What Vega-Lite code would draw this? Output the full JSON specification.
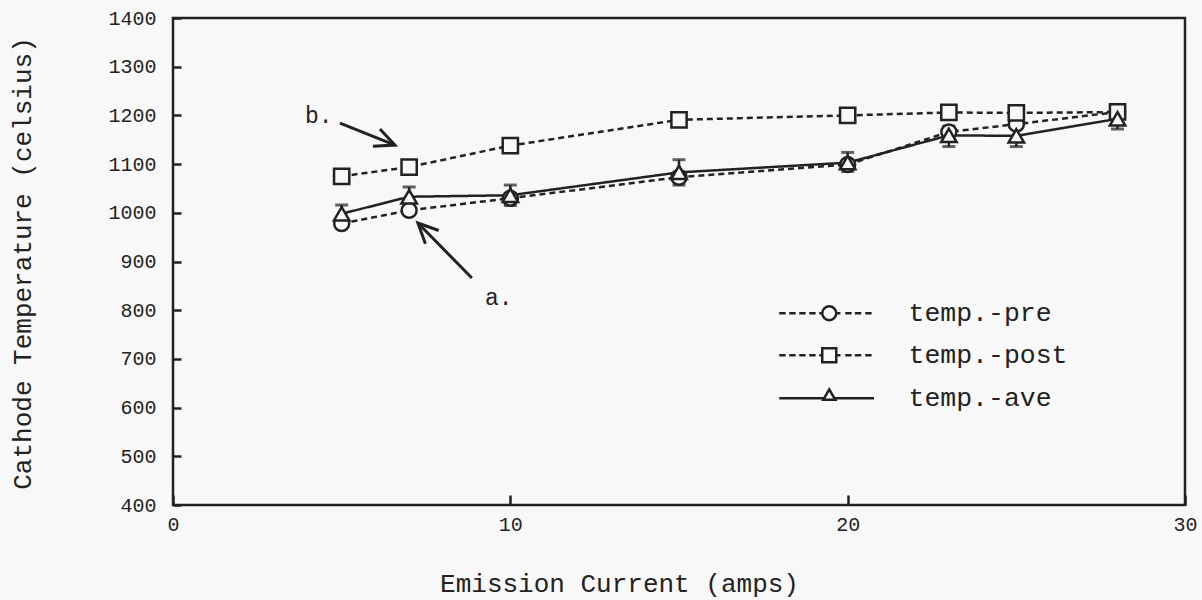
{
  "$schema": "https://vega.github.io/schema/vega-lite/v6.json",
  "width": 1012,
  "height": 487,
  "autosize": "none",
  "padding": {"left": 173, "top": 18, "right": 17, "bottom": 95},
  "background": "#f8f8f8",
  "config": {
    "font": "Liberation Mono",
    "view": {"stroke": "#222", "strokeWidth": 2.5},
    "axis": {
      "domain": false,
      "grid": false,
      "labelFont": "Liberation Mono",
      "titleFont": "Liberation Mono",
      "labelColor": "#222",
      "titleColor": "#222",
      "labelFontSize": 20,
      "titleFontSize": 26,
      "titleFontWeight": "normal",
      "labelFlush": false,
      "labelOverlap": false
    }
  },
  "datasets": {
    "temps": [
      {"current": 5, "series": "temp.-pre", "temp": 978},
      {"current": 7, "series": "temp.-pre", "temp": 1005},
      {"current": 10, "series": "temp.-pre", "temp": 1030},
      {"current": 15, "series": "temp.-pre", "temp": 1073},
      {"current": 20, "series": "temp.-pre", "temp": 1099},
      {"current": 23, "series": "temp.-pre", "temp": 1166},
      {"current": 25, "series": "temp.-pre", "temp": 1182},
      {"current": 28, "series": "temp.-pre", "temp": 1207},
      {"current": 5, "series": "temp.-post", "temp": 1075},
      {"current": 7, "series": "temp.-post", "temp": 1094},
      {"current": 10, "series": "temp.-post", "temp": 1138},
      {"current": 15, "series": "temp.-post", "temp": 1191},
      {"current": 20, "series": "temp.-post", "temp": 1200},
      {"current": 23, "series": "temp.-post", "temp": 1206},
      {"current": 25, "series": "temp.-post", "temp": 1205},
      {"current": 28, "series": "temp.-post", "temp": 1207},
      {"current": 5, "series": "temp.-ave", "temp": 998, "lo": 980, "hi": 1016},
      {"current": 7, "series": "temp.-ave", "temp": 1033, "lo": 1012, "hi": 1053},
      {"current": 10, "series": "temp.-ave", "temp": 1036, "lo": 1015, "hi": 1057},
      {"current": 15, "series": "temp.-ave", "temp": 1083, "lo": 1057, "hi": 1109},
      {"current": 20, "series": "temp.-ave", "temp": 1103, "lo": 1085, "hi": 1124},
      {"current": 23, "series": "temp.-ave", "temp": 1159, "lo": 1136, "hi": 1178},
      {"current": 25, "series": "temp.-ave", "temp": 1158, "lo": 1136, "hi": 1176},
      {"current": 28, "series": "temp.-ave", "temp": 1193, "lo": 1172, "hi": 1212}
    ],
    "arrows": [
      {"arrow": "b", "end": "tail", "current": 4.95, "temp": 1184},
      {"arrow": "b", "end": "tip", "current": 6.58, "temp": 1139},
      {"arrow": "a", "end": "tail", "current": 8.86, "temp": 866},
      {"arrow": "a", "end": "tip", "current": 7.26, "temp": 979}
    ],
    "notes": [
      {"text": "b.", "current": 3.91, "temp": 1199},
      {"text": "a.", "current": 9.25, "temp": 825}
    ]
  },
  "encoding": {
    "x": {
      "field": "current",
      "type": "quantitative",
      "scale": {"domain": [0, 30], "nice": false, "zero": false},
      "axis": {
        "title": "Emission Current (amps)",
        "values": [0, 10, 20, 30],
        "format": "d",
        "ticks": true,
        "tickColor": "#222",
        "tickWidth": 2.5,
        "offset": -10,
        "tickSize": 10,
        "labelPadding": 9,
        "titleX": 446,
        "titleY": 88,
        "titleBaseline": "middle"
      }
    },
    "y": {
      "field": "temp",
      "type": "quantitative",
      "scale": {"domain": [400, 1400], "nice": false, "zero": false},
      "axis": {
        "title": "Cathode Temperature (celsius)",
        "values": [400, 500, 600, 700, 800, 900, 1000, 1100, 1200, 1300, 1400],
        "format": "d",
        "ticks": true,
        "tickColor": "#222",
        "tickWidth": 2.5,
        "offset": -8,
        "tickSize": 8,
        "labelPadding": 17,
        "titleX": -159,
        "titleY": 245,
        "titleBaseline": "middle",
        "titleAlign": "center",
        "titleAngle": -90
      }
    }
  },
  "resolve": {"scale": {"shape": "independent", "size": "independent"}},
  "layer": [
    {
      "data": {"name": "temps"},
      "mark": {"type": "line", "color": "#222", "strokeWidth": 2.5},
      "encoding": {
        "detail": {"field": "series"},
        "strokeDash": {
          "field": "series",
          "scale": {"domain": ["temp.-pre", "temp.-post", "temp.-ave"], "range": [[6, 4], [6, 4], [1, 0]]},
          "legend": null
        }
      }
    },
    {
      "data": {"name": "temps"},
      "transform": [{"filter": "datum.series === 'temp.-ave'"}],
      "mark": {"type": "rule", "color": "#222", "strokeWidth": 2.5},
      "encoding": {
        "y": {"field": "lo", "type": "quantitative", "scale": {"domain": [400, 1400], "nice": false, "zero": false}},
        "y2": {"field": "hi"}
      }
    },
    {
      "data": {"name": "temps"},
      "transform": [{"filter": "datum.series === 'temp.-ave'"}],
      "mark": {"type": "tick", "orient": "horizontal", "color": "#222", "size": 13, "thickness": 3},
      "encoding": {
        "y": {"field": "hi", "type": "quantitative", "scale": {"domain": [400, 1400], "nice": false, "zero": false}}
      }
    },
    {
      "data": {"name": "temps"},
      "transform": [{"filter": "datum.series === 'temp.-ave'"}],
      "mark": {"type": "tick", "orient": "horizontal", "color": "#222", "size": 13, "thickness": 3},
      "encoding": {
        "y": {"field": "lo", "type": "quantitative", "scale": {"domain": [400, 1400], "nice": false, "zero": false}}
      }
    },
    {
      "data": {"name": "temps"},
      "mark": {"type": "point", "filled": true, "fill": "#f8f8f8", "stroke": "#222", "strokeWidth": 2.5, "opacity": 1},
      "encoding": {
        "shape": {
          "field": "series",
          "scale": {"domain": ["temp.-pre", "temp.-post", "temp.-ave"], "range": ["circle", "square", "triangle-up"]},
          "legend": null
        },
        "size": {
          "field": "series",
          "scale": {"domain": ["temp.-pre", "temp.-post", "temp.-ave"], "range": [225, 240, 150]},
          "legend": null
        }
      }
    },
    {
      "data": {"name": "temps"},
      "mark": {"type": "point", "filled": false, "stroke": "#222", "color": "#222", "strokeWidth": 2.5, "opacity": 0, "size": 256},
      "encoding": {
        "shape": {
          "field": "series",
          "scale": {
            "domain": ["temp.-pre", "temp.-post", "temp.-ave"],
            "range": [
              "M-6.25,0h0.8M-5,0h0.8M-3.75,0h0.8M-2.5,0h0.8M-1.25,0h0.4M1,0h0.4M2,0h0.8M3.2,0h0.8M4.5,0h0.8M-0.875,0A0.875,0.875,0,1,1,0.875,0A0.875,0.875,0,1,1,-0.875,0Z",
              "M-6.25,0h0.8M-5,0h0.8M-3.75,0h0.8M-2.5,0h0.8M-1.25,0h0.4M1,0h0.4M2,0h0.8M3.2,0h0.8M4.5,0h0.8M-0.875,-0.875H0.875V0.875H-0.875Z",
              "M-6.25,0H-0.6M0.6,0H5.6M0,-1.1L0.75,0.2H-0.75Z"
            ]
          },
          "legend": {
            "title": null,
            "orient": "none",
            "legendX": 643,
            "legendY": 282,
            "padding": 0,
            "symbolSize": 256,
            "symbolStrokeWidth": 2.5,
            "symbolStrokeColor": "#222",
            "symbolFillColor": "transparent",
            "symbolOpacity": 1,
            "labelFont": "Liberation Mono",
            "labelFontSize": 26.5,
            "labelColor": "#222",
            "labelOffset": 66,
            "rowPadding": 15
          }
        }
      }
    },
    {
      "data": {"name": "arrows"},
      "mark": {"type": "line", "color": "#222", "strokeWidth": 3},
      "encoding": {"detail": {"field": "arrow"}}
    },
    {
      "data": {"name": "arrows"},
      "transform": [{"filter": "datum.arrow === 'b' && datum.end === 'tip'"}],
      "mark": {"type": "point", "shape": "M-0.47,1L0,0L0.47,1", "filled": false, "stroke": "#222", "strokeWidth": 3, "size": 1600, "angle": 112, "opacity": 1}
    },
    {
      "data": {"name": "arrows"},
      "transform": [{"filter": "datum.arrow === 'a' && datum.end === 'tip'"}],
      "mark": {"type": "point", "shape": "M-0.47,1L0,0L0.47,1", "filled": false, "stroke": "#222", "strokeWidth": 3, "size": 1600, "angle": 315, "opacity": 1}
    },
    {
      "data": {"name": "notes"},
      "mark": {"type": "text", "align": "left", "baseline": "middle", "font": "Liberation Mono", "fontSize": 23, "color": "#222"},
      "encoding": {"text": {"field": "text"}}
    }
  ]
}
